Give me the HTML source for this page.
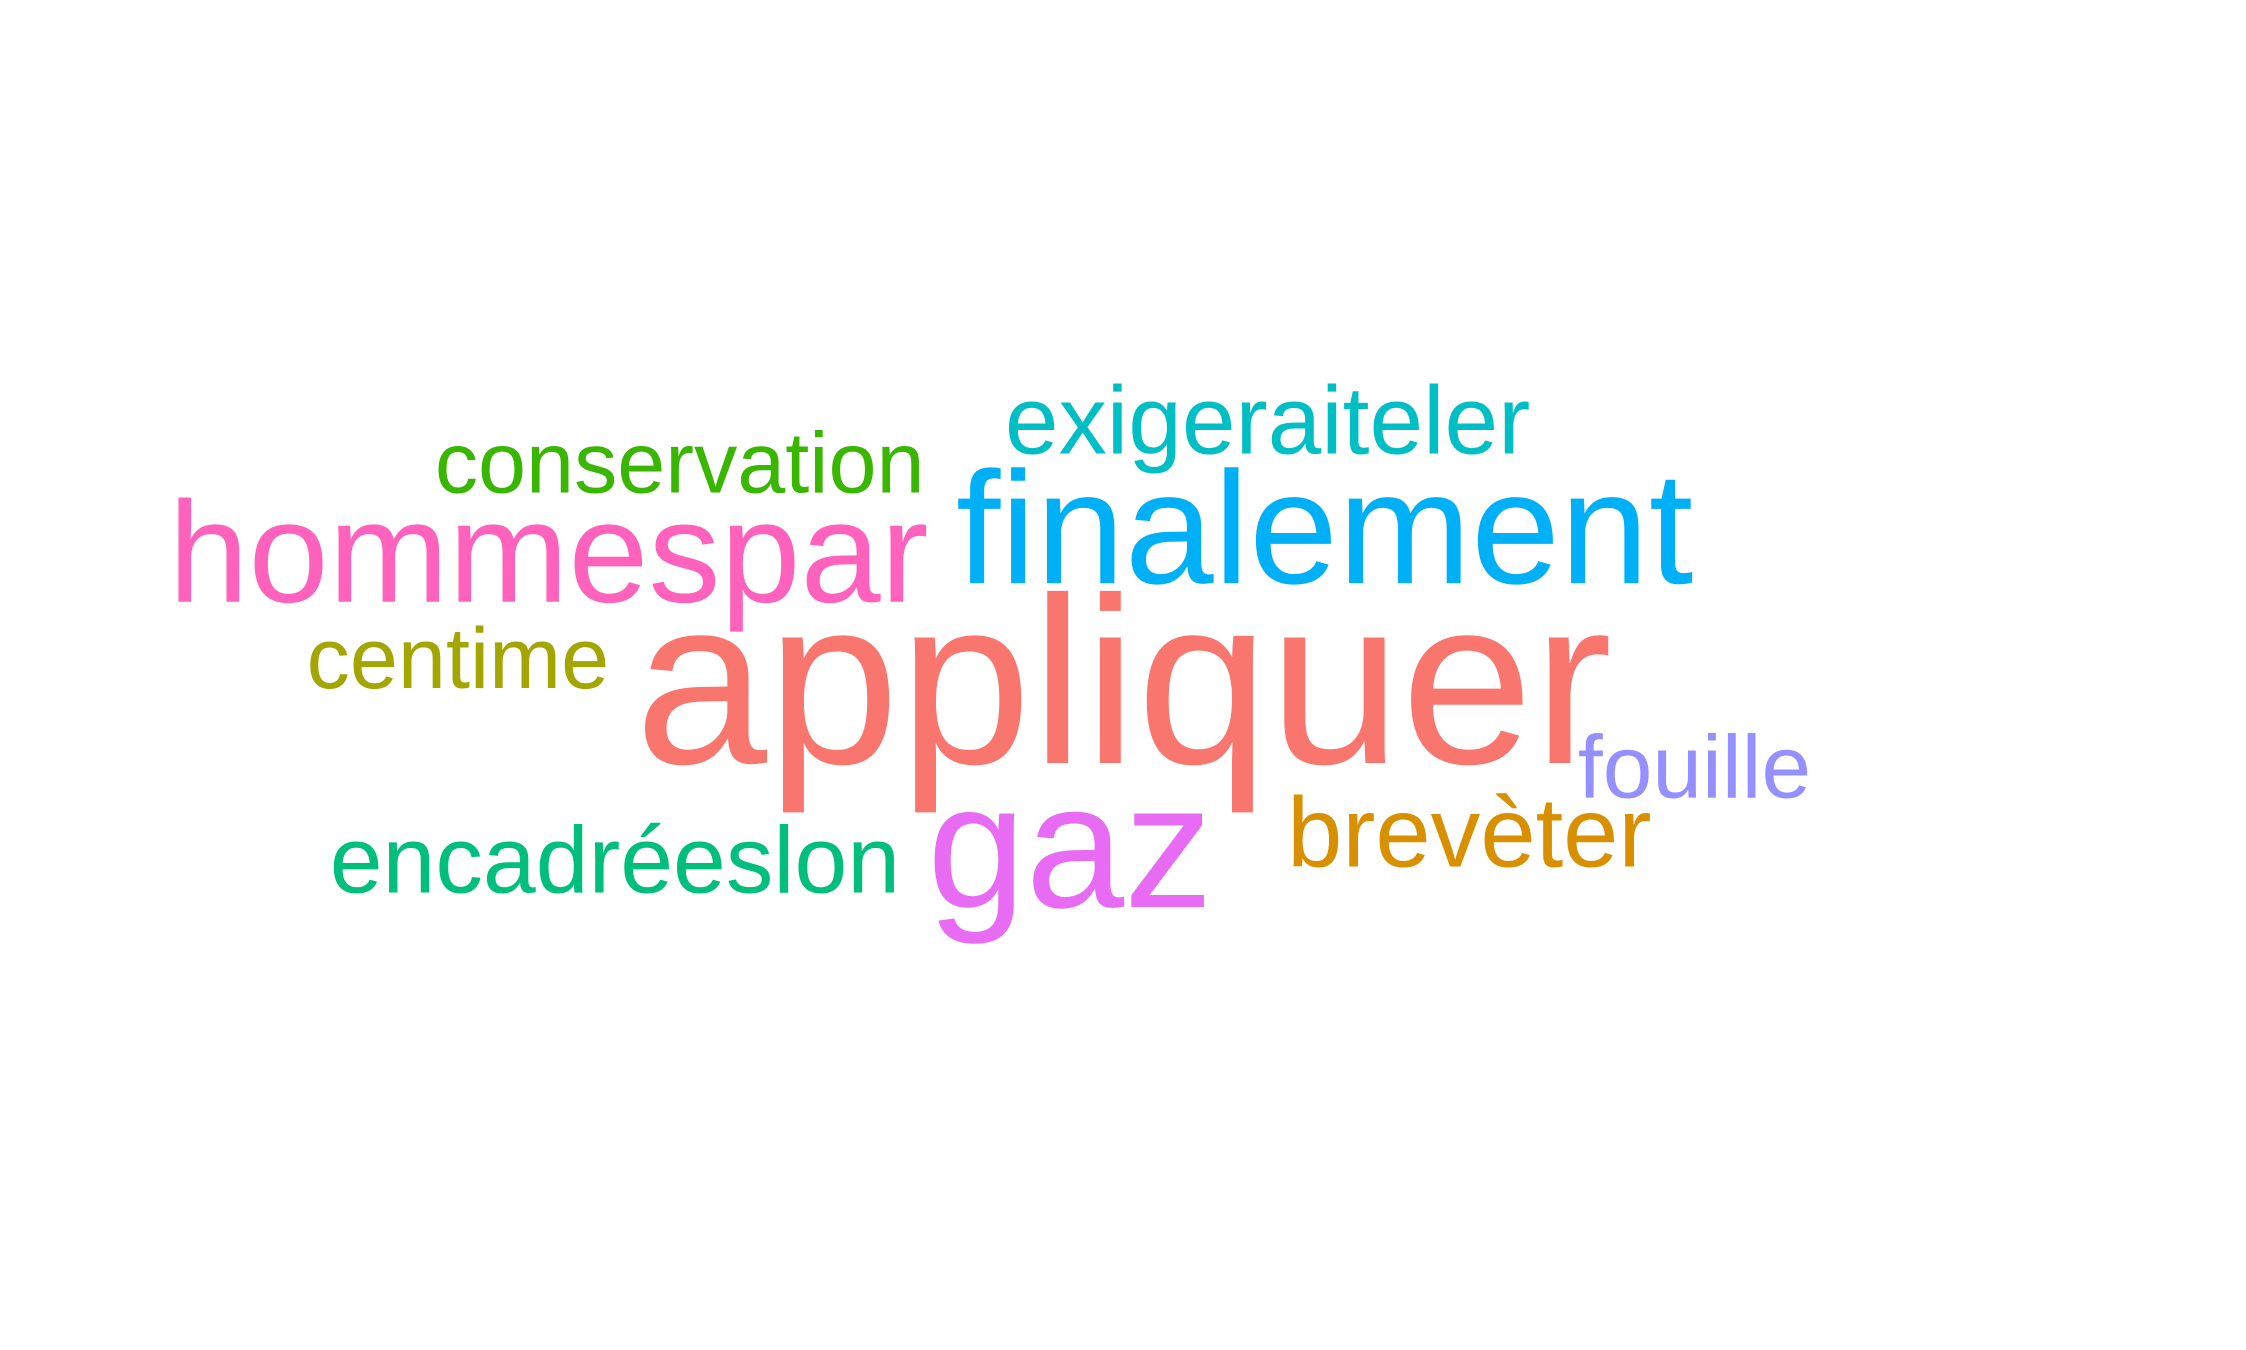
<!DOCTYPE html>
<html><head><meta charset="utf-8"><style>
html,body{margin:0;padding:0;background:#fff;}
svg{display:block;}
text{font-family:"Liberation Sans",Arial,sans-serif;}
</style></head><body>
<svg id="cloud" width="2246" height="1350" viewBox="0 0 1560 937.7" xmlns="http://www.w3.org/2000/svg"></svg>
<script>
const words = ["appliquer","gaz","finalement","hommespar","brevèter","exigeraiteler","encadréeslon","fouille","conservation","centime"];
const freqs = [165,123,111,100,69,67,66,62,60,60];
const colors = ["#F8766D","#E76BF3","#00B0F6","#FF62BC","#D89000","#00BFC4","#00BF7D","#9590FF","#39B600","#A3A500"];
const xs = [441,644,664,117,894,698,229,1096,302,213];
const ys = [530,630,405,418,602,315,620,554,342,478];
const svg = document.getElementById('cloud');
for (let i = 0; i < words.length; i++) {
  const t = document.createElementNS('http://www.w3.org/2000/svg','text');
  t.setAttribute('x', xs[i]);
  t.setAttribute('y', ys[i]);
  t.setAttribute('font-size', freqs[i]);
  t.setAttribute('fill', colors[i]);
  t.textContent = words[i];
  
  
  svg.appendChild(t);
}
</script>
</body></html>
